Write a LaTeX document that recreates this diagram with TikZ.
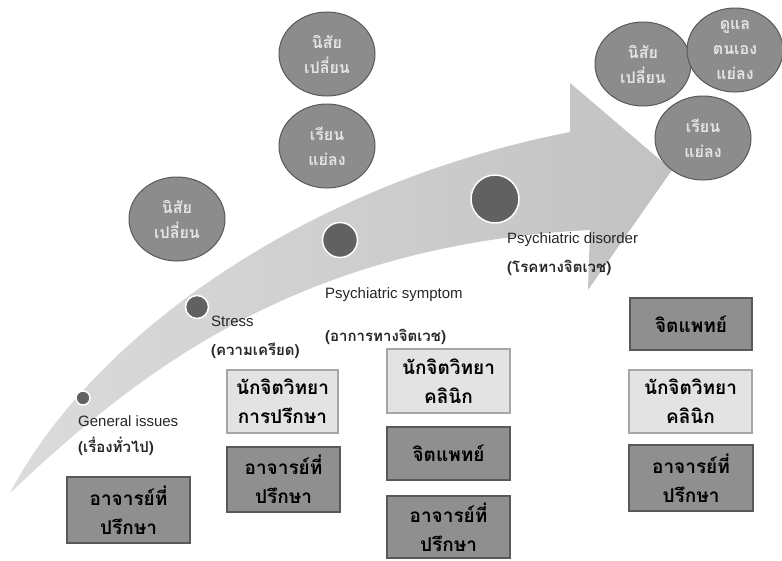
\documentclass[tikz,border=0pt]{standalone}
\usepackage{fontspec}
\usetikzlibrary{shapes.geometric}
\setmainfont{Liberation Sans}
\newfontfamily\thai[Script=Thai]{Loma}
\definecolor{colDot}{gray}{.38}
\definecolor{colBub}{gray}{.55}
\definecolor{colDark}{gray}{.56}
\definecolor{colLight}{gray}{.89}
\colorlet{ecol}{black!65!white}
\tikzstyle{dot}=[circle, draw=white, line width=1.5pt, fill=colDot, inner sep=0pt]
\tikzstyle{bubble}=[ellipse, draw=black!65, line width=1pt, fill=colBub, minimum width=96pt, minimum height=84pt, inner sep=0pt, align=center, text=white!90!black, font=\thai\bfseries\fontsize{16}{25}\selectfont]
\tikzstyle{stage}=[anchor=west, inner sep=0pt, text=black!85, font=\fontsize{15}{16}\selectfont]
\tikzstyle{tstage}=[stage, font=\thai\bfseries\fontsize{15}{16}\selectfont]
\tikzstyle{box}=[rectangle, draw=ecol, line width=1.2pt, align=center, inner sep=0pt, font=\thai\bfseries\fontsize{19}{29}\selectfont]
\tikzstyle{dbox}=[box, fill=colDark]
\tikzstyle{lbox}=[box, fill=colLight, draw=black!35]

\begin{document}
\begin{tikzpicture}[x=1pt,y=-1pt]
	\useasboundingbox (0,0) rectangle (782,560);
	\shade[left color=black!14, right color=black!24]
		(10,493) .. controls (90,340) and (300,185) .. (570,132) -- (570,83) -- (672,170)
		-- (588,290) -- (590,230) .. controls (300,245) and (140,370) .. (10,493) -- cycle;
	\node[dot, minimum size=14pt] (d1) at (83,398) {};
	\node[dot, minimum size=23pt] (d2) at (197,307) {};
	\node[dot, minimum size=35pt] (d3) at (340,240) {};
	\node[dot, minimum size=48pt] (d4) at (495,199) {};
	\node[stage] (s1) at (78,421) {General issues};
	\node[tstage] (t1) at (78,446) {(เรื่องทั่วไป)};
	\node[stage] (s2) at (211,321) {Stress};
	\node[tstage] (t2) at (211,351) {(ความเครียด)};
	\node[stage] (s3) at (325,295) {Psychiatric symptom};
	\node[tstage] (t3) at (325,337) {(อาการทางจิตเวช)};
	\node[stage] (s4) at (507,240) {Psychiatric disorder};
	\node[tstage] (t4) at (507,268) {(โรคทางจิตเวช)};
	\node[bubble] (b1) at (177,219) {นิสัย\\เปลี่ยน};
	\node[bubble] (b2) at (327,54) {นิสัย\\เปลี่ยน};
	\node[bubble] (b3) at (327,146) {เรียน\\แย่ลง};
	\node[bubble] (b4) at (643,64) {นิสัย\\เปลี่ยน};
	\node[bubble] (b5) at (735,50) {ดูแล\\ตนเอง\\แย่ลง};
	\node[bubble] (b6) at (703,138) {เรียน\\แย่ลง};
	\node[dbox, minimum width=123pt, minimum height=66pt] (a1) at (128.5,510) {อาจารย์ที่\\ปรึกษา};
	\node[lbox, minimum width=111pt, minimum height=63pt] (p2) at (282.5,401.5) {นักจิตวิทยา\\การปรึกษา};
	\node[dbox, minimum width=113pt, minimum height=65pt] (a2) at (283.5,479.5) {อาจารย์ที่\\ปรึกษา};
	\node[lbox, minimum width=123pt, minimum height=64pt] (p3) at (448.5,381) {นักจิตวิทยา\\คลินิก};
	\node[dbox, minimum width=123pt, minimum height=53pt] (m3) at (448.5,453.5) {จิตแพทย์};
	\node[dbox, minimum width=123pt, minimum height=62pt] (a3) at (448.5,527) {อาจารย์ที่\\ปรึกษา};
	\node[dbox, minimum width=122pt, minimum height=52pt] (m4) at (691,324) {จิตแพทย์};
	\node[lbox, minimum width=123pt, minimum height=63pt] (p4) at (690.5,401.5) {นักจิตวิทยา\\คลินิก};
	\node[dbox, minimum width=124pt, minimum height=66pt] (a4) at (691,478) {อาจารย์ที่\\ปรึกษา};
\end{tikzpicture}
\end{document}
